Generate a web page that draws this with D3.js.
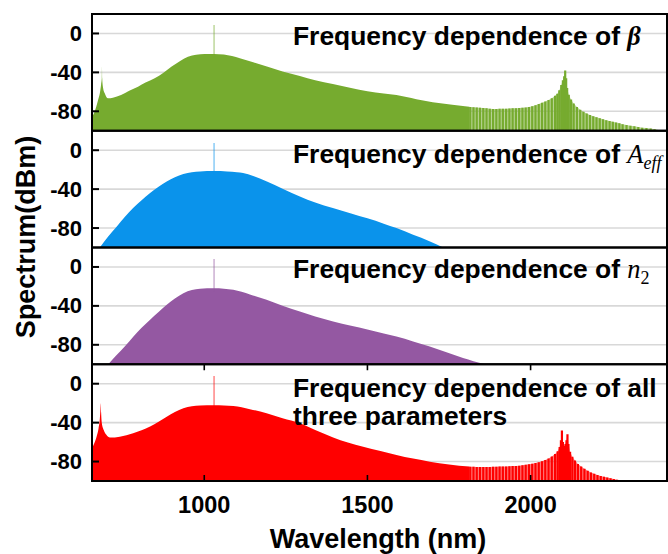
<!DOCTYPE html>
<html>
<head>
<meta charset="utf-8">
<script src="https://d3js.org/d3.v7.min.js"></script>
<style>
  html, body { margin: 0; padding: 0; background: #fff; }
  svg text { font-family: "Liberation Sans", Arial, sans-serif; font-weight: bold; fill: #000; }
</style>
</head>
<body>
<svg id="chart" width="668" height="554"></svg>
<script>
const WIDTH = 668;
const HEIGHT = 554;

// x axis / y axis ticks
const xTicks = [1000, 1500, 2000];
const yTicks = [0, -40, -80];

// wavelength (nm), spectrum (dBm)
const betaMain = [
  [656, -85.6], [662, -82], [669, -75.3], [675, -68], [680, -61.5], [684, -52], [686, -46],
  [686.6, -34], [687.3, -46], [690, -56], [695, -61.5], [705, -66.7], [720, -66], [745, -63.3],
  [770, -59], [797, -54.7], [820, -50.5], [848, -46.1], [875, -40.5], [899, -34.2], [925, -28.5],
  [950, -23.9], [975, -21.8], [1001, -21.1], [1030, -21.0], [1060, -21.6], [1085, -23.2],
  [1109, -25.5], [1150, -29.5], [1192, -34], [1240, -39], [1293, -43.7], [1340, -48],
  [1394, -51.9], [1450, -56], [1500, -59.5], [1550, -61.8], [1589, -63.3], [1650, -67.5],
  [1700, -70.6], [1760, -73.2], [1812, -75.3]
];
const betaTail = [
  [1815, -75.5], [1825, -75.8], [1835, -76], [1845, -76.3], [1855, -76.6], [1865, -77],
  [1875, -77.3], [1885, -77.6], [1895, -77.6], [1905, -77.5], [1915, -77.4], [1925, -77.3],
  [1935, -77.2], [1945, -77], [1955, -76.8], [1965, -76.6], [1975, -76.4], [1985, -76.2],
  [1995, -75.6], [2005, -74.8], [2015, -73.8], [2025, -72.6], [2035, -71.3], [2045, -70],
  [2055, -68.5], [2065, -66.5], [2075, -64], [2082, -62], [2088, -58.5], [2094, -53],
  [2099, -48], [2103, -44], [2106, -38], [2109, -46], [2112, -56], [2117, -63], [2124, -68],
  [2132, -72], [2142, -75.5], [2152, -78.5], [2162, -80.5], [2172, -82.2], [2182, -83.8],
  [2192, -85], [2202, -86.2], [2212, -87.2], [2222, -88.2], [2232, -89.1], [2242, -90],
  [2252, -90.8], [2262, -91.6], [2272, -92.4], [2282, -93.2], [2294, -94], [2306, -94.8],
  [2318, -95.5], [2330, -96.2], [2342, -96.8], [2355, -97.3], [2368, -97.8], [2380, -98.4],
  [2392, -99.2], [2400, -100]
];
const aeffMain = [
  [680, -100], [705, -89], [732, -78.3], [757, -68.5], [782, -59.5], [808, -51.5],
  [834, -44], [860, -37.5], [885, -32.1], [910, -27.8], [936, -24.5], [962, -22.6],
  [987, -21.8], [1030, -21.4], [1070, -21.8], [1100, -22.6], [1119, -23.5], [1150, -26.5],
  [1192, -32.1], [1240, -39.5], [1293, -47.5], [1340, -53.8], [1394, -59.5], [1450, -65],
  [1500, -70], [1550, -75.5], [1589, -80], [1640, -87], [1690, -93.5], [1732, -100]
];
const n2Main = [
  [706, -100], [730, -91], [757, -81.5], [783, -71.5], [808, -62.5], [834, -54.3],
  [860, -46.3], [885, -38.9], [910, -32.3], [936, -26.9], [962, -23.6], [987, -22.4],
  [1030, -22.0], [1060, -22.4], [1089, -23.5], [1140, -28.2], [1191, -33.8], [1240, -39.8],
  [1293, -45.8], [1340, -51], [1395, -56], [1450, -60.5], [1500, -64.3], [1550, -68.3],
  [1589, -71.5], [1640, -76.5], [1691, -81.7], [1740, -87.5], [1793, -93.7], [1825, -96.8],
  [1860, -100]
];
const allMain = [
  [656, -66.3], [662, -62], [670, -54.4], [676, -46], [680, -36], [682, -26], [683, -20],
  [684, -30], [686, -40], [692, -47.5], [700, -52.5], [711, -55.4], [741, -54.4], [782, -50.9],
  [834, -44.1], [860, -39.2], [885, -33.9], [910, -29.2], [936, -25.3], [962, -23.2],
  [987, -22.5], [1030, -22.2], [1060, -22.4], [1089, -22.9], [1140, -26.2], [1191, -30.4],
  [1240, -35.5], [1293, -40.6], [1340, -47.5], [1395, -55.2], [1440, -60.5], [1487, -64.7],
  [1540, -69.2], [1589, -73.2], [1640, -77], [1691, -80.1], [1750, -83], [1812, -85.2]
];
const allTail = [
  [1815, -85.3], [1825, -85.4], [1835, -85.5], [1845, -85.6], [1855, -85.6], [1865, -85.6],
  [1875, -85.5], [1885, -85.4], [1895, -85.3], [1905, -85.2], [1915, -85.1], [1925, -85],
  [1935, -84.9], [1945, -84.7], [1955, -84.5], [1965, -84.2], [1975, -83.8], [1985, -83.4],
  [1995, -82.9], [2005, -82.3], [2015, -81.6], [2025, -80.7], [2035, -79.6], [2045, -78.4],
  [2055, -76.8], [2065, -74.8], [2075, -72.3], [2083, -69.5], [2089, -65], [2093, -58],
  [2096, -48], [2099, -60], [2103, -64], [2107, -62], [2110, -58], [2113, -52], [2116, -62],
  [2121, -70], [2128, -75], [2136, -79], [2145, -82.5], [2155, -85.2], [2165, -87.5],
  [2175, -89.5], [2185, -91.2], [2195, -92.6], [2205, -93.8], [2215, -94.8], [2225, -95.6],
  [2235, -96.4], [2245, -97.2], [2255, -98], [2265, -98.8], [2275, -99.5], [2285, -100]
];

// pump line at 1030 nm, peak level in each panel
const pumpWl = 1030;
const pumpPeak = [8.7, 7.4, 8.1, 8.0];

const panels = [
  { main: betaMain, tail: betaTail, color: "#76ab2f", pump: pumpPeak[0] },
  { main: aeffMain, tail: [], color: "#0a93eb", pump: pumpPeak[1] },
  { main: n2Main, tail: [], color: "#9458a2", pump: pumpPeak[2] },
  { main: allMain, tail: allTail, color: "#ff0000", pump: pumpPeak[3] }
];

const LEFT = 92;
const RIGHT = 667;
const TOP = 14;
const PANEL_H = 116.75;

const svg = d3.select("#chart");

const x = d3.scaleLinear().domain([656, 2418]).range([LEFT, RIGHT]);

panels.forEach((p, i) => {
  const top = TOP + i * PANEL_H;
  const y = d3.scaleLinear().domain([-100, 20]).range([top + PANEL_H, top]);
  const g = svg.append("g");

  g.append("clipPath").attr("id", "clip" + i)
    .append("rect").attr("x", LEFT).attr("y", top).attr("width", RIGHT - LEFT).attr("height", PANEL_H);

  // grid lines
  g.selectAll(".grid").data(yTicks).enter().append("line")
    .attr("x1", LEFT).attr("x2", RIGHT)
    .attr("y1", d => y(d)).attr("y2", d => y(d))
    .attr("stroke", "#d8d8d8").attr("stroke-width", 1.6);

  const plot = g.append("g").attr("clip-path", `url(#clip${i})`);

  const area = d3.area()
    .x(d => x(d[0]))
    .y0(y(-100))
    .y1(d => y(d[1]));

  plot.append("path").datum(p.main)
    .attr("d", area.curve(d3.curveMonotoneX))
    .attr("fill", p.color);

  if (p.tail.length) {
    plot.append("path").datum([p.main[p.main.length - 1]].concat(p.tail))
      .attr("d", area.curve(d3.curveLinear))
      .attr("fill", p.color).attr("fill-opacity", 0.5);
    plot.selectAll(".stem").data(p.tail).enter().append("line")
      .attr("x1", d => x(d[0])).attr("x2", d => x(d[0]))
      .attr("y1", y(-100)).attr("y2", d => y(d[1]))
      .attr("stroke", p.color).attr("stroke-width", 2.2);
  }

  // pump line
  plot.append("line")
    .attr("x1", x(pumpWl)).attr("x2", x(pumpWl))
    .attr("y1", y(-25)).attr("y2", y(p.pump))
    .attr("stroke", p.color).attr("stroke-opacity", 0.6).attr("stroke-width", 1.2);

  // y ticks
  g.selectAll(".ytick").data(yTicks).enter().append("line")
    .attr("x1", LEFT).attr("x2", LEFT + 7)
    .attr("y1", d => y(d)).attr("y2", d => y(d))
    .attr("stroke", "#000").attr("stroke-width", 2);

  g.selectAll(".ylab").data(yTicks).enter().append("text")
    .attr("x", 82).attr("y", d => y(d) + 7.5)
    .attr("text-anchor", "end")
    .style("font-size", "22px")
    .text(d => d);

  // x ticks only on the bottom panel
  if (i === panels.length - 1) {
    g.selectAll(".xtick").data(xTicks).enter().append("line")
      .attr("x1", d => x(d)).attr("x2", d => x(d))
      .attr("y1", top + PANEL_H).attr("y2", top + PANEL_H - 6)
      .attr("stroke", "#000").attr("stroke-width", 1.6);
    g.selectAll(".xtick2").data(xTicks).enter().append("line")
      .attr("x1", d => x(d)).attr("x2", d => x(d))
      .attr("y1", top).attr("y2", top + 6)
      .attr("stroke", "#000").attr("stroke-width", 1.6);
    g.selectAll(".xlab").data(xTicks).enter().append("text")
      .attr("x", d => x(d)).attr("y", 513)
      .attr("text-anchor", "middle")
      .style("font-size", "23.5px")
      .text(d => d);
  }

  g.append("rect")
    .attr("x", LEFT).attr("y", top).attr("width", RIGHT - LEFT).attr("height", PANEL_H)
    .attr("fill", "none").attr("stroke", "#000").attr("stroke-width", 2);
});

// panel titles
const TITLE_X = 293;
const titleSize = "26.4px";
const serif = "'Liberation Serif', 'Times New Roman', serif";

function title(yPos) {
  return svg.append("text").attr("x", TITLE_X).attr("y", yPos).style("font-size", titleSize);
}

let t = title(TOP + 31);
t.append("tspan").text("Frequency dependence of ");
t.append("tspan").style("font-family", serif).style("font-style", "italic").text("β");

t = title(TOP + PANEL_H + 32);
t.append("tspan").text("Frequency dependence of ");
t.append("tspan").style("font-family", serif).style("font-style", "italic").style("font-weight", "normal").text("A");
t.append("tspan").style("font-family", serif).style("font-style", "italic").style("font-weight", "normal")
  .style("font-size", "18px").attr("dy", 6).text("eff");

t = title(TOP + 2 * PANEL_H + 30);
t.append("tspan").text("Frequency dependence of ");
t.append("tspan").style("font-family", serif).style("font-style", "italic").style("font-weight", "normal").text("n");
t.append("tspan").style("font-family", serif).style("font-weight", "normal")
  .style("font-size", "18px").attr("dy", 6).text("2");

title(TOP + 3 * PANEL_H + 33).text("Frequency dependence of all");
title(TOP + 3 * PANEL_H + 61).text("three parameters");

// axis labels
svg.append("text")
  .attr("x", 378).attr("y", 548)
  .attr("text-anchor", "middle")
  .style("font-size", "27px")
  .text("Wavelength (nm)");

svg.append("text")
  .attr("transform", "translate(35, 237) rotate(-90)")
  .attr("text-anchor", "middle")
  .style("font-size", "27px")
  .text("Spectrum(dBm)");
</script>
</body>
</html>
